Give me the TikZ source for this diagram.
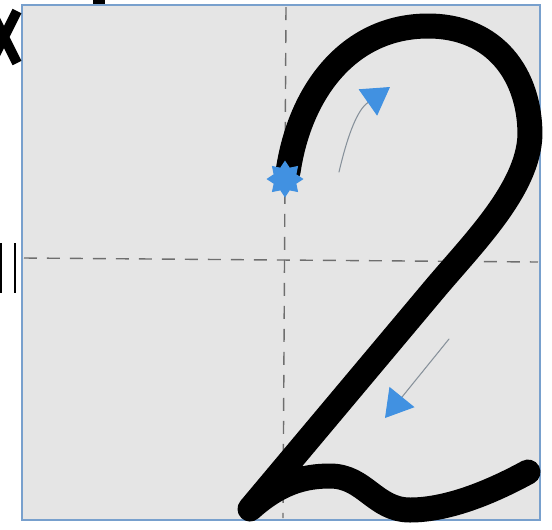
\documentclass[tikz,border=0pt]{standalone}
\usetikzlibrary{arrows.meta,shapes.geometric}
\definecolor{gridbg}{RGB}{229,229,229}
\definecolor{framebl}{RGB}{120,160,205}
\definecolor{dashgr}{RGB}{110,110,110}
\definecolor{hintbl}{RGB}{65,145,225}
\definecolor{guidegr}{RGB}{135,145,155}

\begin{document}
\begin{tikzpicture}[x=0.02cm, y=-0.02cm, line cap=round,
  guide/.style={draw=guidegr, line width=0.6pt,
    -{Triangle[length=0.54cm, width=0.64cm, color=hintbl]}}]
\useasboundingbox (0,0) rectangle (552,529);
% 田字格
\draw[fill=gridbg, draw=framebl, line width=1.5pt] (22,5) rectangle (540,520);
\draw[dashgr, dash pattern=on 0.26cm off 0.2cm, line width=0.8pt, line cap=butt] (24,258) -- (538,262);
\draw[dashgr, dash pattern=on 0.26cm off 0.2cm, line width=0.8pt, line cap=butt] (286,7) -- (283,518);
% 数字 2 的笔画
\draw[line width=0.5cm, line join=round] (288,172) .. controls (300,90) and (350,26) .. (428,26)
  .. controls (495,26) and (530,75) .. (530,135)
  .. controls (528,190) and (472,244) .. (432,292)
  -- (250,509)
  .. controls (280,482) and (305,476) .. (330,476)
  .. controls (365,476) and (375,510) .. (410,510)
  .. controls (450,510) and (495,490) .. (528,472);
% 起笔星号
\node[star, star points=8, star point ratio=1.5, fill=hintbl, minimum size=0.74cm, inner sep=0pt] (start) at (285,179) {};
% 笔顺箭头
\draw[guide] (339,172) .. controls (350,125) and (360,108) .. (390,87);
\draw[guide] (449,339) -- (385,418);
% 左侧相邻内容的残迹
\draw[line width=0.2cm, line cap=butt] (-9,11) -- (17,63) (-9,63) -- (17,11);
\fill (93,-2) rectangle (105,4);
\draw[line width=0.06cm, line cap=butt] (1,243) -- (1,293);
\draw[line width=0.04cm, line cap=butt] (15,243) -- (15,293);
\end{tikzpicture}
\end{document}
